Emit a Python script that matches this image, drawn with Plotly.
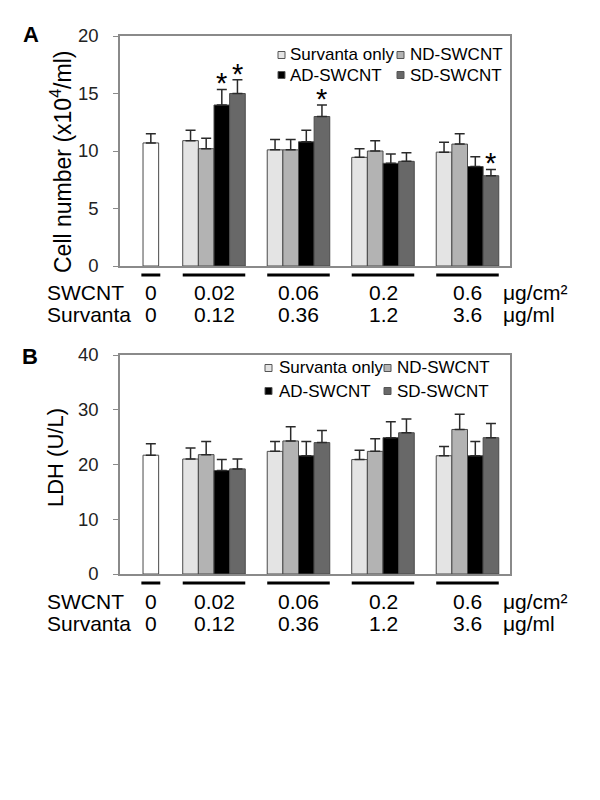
import plotly.graph_objects as go

# ---------------- data ----------------
swcnt_labels = ["0", "0.02", "0.06", "0.2", "0.6"]
survanta_labels = ["0", "0.12", "0.36", "1.2", "3.6"]
dose_groups = ["0.02", "0.06", "0.2", "0.6"]
series_names = ["Survanta only", "ND-SWCNT", "AD-SWCNT", "SD-SWCNT"]

# Panel A: cell number (x10^4/ml)
cell_control = 10.7
cell_control_err = 0.8
cell_surv = [10.9, 10.1, 9.45, 9.9]
cell_nd = [10.2, 10.1, 10.0, 10.6]
cell_ad = [14.0, 10.8, 8.93, 8.65]
cell_sd = [15.0, 13.0, 9.1, 7.85]
cell_surv_err = [0.9, 0.9, 0.75, 0.85]
cell_nd_err = [0.9, 0.9, 0.9, 0.9]
cell_ad_err = [1.35, 1.0, 0.8, 0.85]
cell_sd_err = [1.2, 1.0, 0.75, 0.55]
# significance marks: (series index, group index)
cell_stars = [(2, 0), (3, 0), (3, 1), (3, 3)]

# Panel B: LDH (U/L)
ldh_control = 21.7
ldh_control_err = 2.1
ldh_surv = [21.0, 22.4, 20.9, 21.6]
ldh_nd = [21.8, 24.3, 22.4, 26.4]
ldh_ad = [18.9, 21.6, 24.9, 21.6]
ldh_sd = [19.2, 24.0, 25.8, 24.9]
ldh_surv_err = [2.0, 1.8, 1.7, 1.7]
ldh_nd_err = [2.4, 2.6, 2.3, 2.8]
ldh_ad_err = [2.0, 2.6, 2.9, 2.6]
ldh_sd_err = [1.8, 2.2, 2.5, 2.6]

# ---------------- style ----------------
FONT = "Liberation Sans, Arial, sans-serif"
fills = ["#e4e4e4", "#b3b3b3", "#000000", "#686868"]
outline = "#4a4a4a"
axis_col = "#8a8a8a"
BW = 0.185
offsets = [-2 * BW, -BW, 0.0, BW]
ctrl_off = 0.16

W, H = 600, 800
PAGE_OFF = 8  # page body margin
def px(xp):
    return (xp - PAGE_OFF) / W
def py(yp):
    return 1 - (yp - PAGE_OFF) / H

fig = go.Figure()

panels = [
    dict(xa="x", ya="y", control=cell_control, control_err=cell_control_err,
         vals=[cell_surv, cell_nd, cell_ad, cell_sd],
         errs=[cell_surv_err, cell_nd_err, cell_ad_err, cell_sd_err]),
    dict(xa="x2", ya="y2", control=ldh_control, control_err=ldh_control_err,
         vals=[ldh_surv, ldh_nd, ldh_ad, ldh_sd],
         errs=[ldh_surv_err, ldh_nd_err, ldh_ad_err, ldh_sd_err]),
]

def err_style(arr):
    return dict(type="data", array=arr, arrayminus=[0] * len(arr), symmetric=False,
                color="#2a2a2a", thickness=1.5, width=5)

for p in panels:
    fig.add_trace(go.Bar(
        x=[swcnt_labels[0]], y=[p["control"]], width=BW, offset=ctrl_off,
        marker=dict(color="#ffffff", line=dict(color=outline, width=1)),
        error_y=err_style([p["control_err"]]),
        xaxis=p["xa"], yaxis=p["ya"], showlegend=False, name="Control"))
    for i, name in enumerate(series_names):
        fig.add_trace(go.Bar(
            x=dose_groups, y=p["vals"][i], width=BW, offset=offsets[i],
            marker=dict(color=fills[i], line=dict(color=outline, width=1)),
            error_y=err_style(p["errs"][i]),
            xaxis=p["xa"], yaxis=p["ya"], showlegend=False, name=name))

annotations = []
shapes = []

# stars
for (si, gi) in cell_stars:
    vals = panels[0]["vals"][si]
    errs = panels[0]["errs"][si]
    annotations.append(dict(
        x=gi + 1 + offsets[si] + BW / 2, y=vals[gi] + errs[gi], xref="x", yref="y",
        text="*", showarrow=False, xanchor="center", yanchor="bottom", yshift=-12,
        font=dict(family=FONT, size=29, color="#000000")))

x_dom = [px(120), px(510)]
x_range = [-0.1124, 4.503]
ax_common = dict(showline=True, linecolor=axis_col, linewidth=1.5, mirror=True,
                 showgrid=False, zeroline=False, automargin=False)
fig.update_layout(
    xaxis=dict(domain=x_dom, range=x_range, type="category",
               categoryorder="array", categoryarray=swcnt_labels,
               showticklabels=False, ticks="", anchor="y", **ax_common),
    yaxis=dict(domain=[py(266), py(36)], range=[0, 20], tickvals=[0, 5, 10, 15, 20],
               ticks="outside", ticklen=5, tickcolor=axis_col, tickwidth=1.2,
               ticklabelstandoff=11,
               tickfont=dict(family=FONT, size=18.5, color="#222222"), anchor="x", **ax_common),
    xaxis2=dict(domain=x_dom, range=x_range, type="category",
                categoryorder="array", categoryarray=swcnt_labels,
                showticklabels=False, ticks="", anchor="y2", **ax_common),
    yaxis2=dict(domain=[py(574), py(355)], range=[0, 40], tickvals=[0, 10, 20, 30, 40],
                ticks="outside", ticklen=5, tickcolor=axis_col, tickwidth=1.2,
                ticklabelstandoff=11,
                tickfont=dict(family=FONT, size=18.5, color="#222222"), anchor="x2", **ax_common),
)

# bottom labels, underlines
LBL = 21
panel_rows = [
    dict(xref="x", line_y=275, row1=292, row2=314),
    dict(xref="x2", line_y=583, row1=601, row2=623),
]
ctrl_center = ctrl_off + BW / 2
for pr in panel_rows:
    centers = [ctrl_center] + [i + 1 for i in range(len(dose_groups))]
    for k, c in enumerate(centers):
        half = 0.112 if k == 0 else 2 * BW
        shapes.append(dict(type="line", xref=pr["xref"], yref="paper",
                           x0=c - half, x1=c + half, y0=py(pr["line_y"]), y1=py(pr["line_y"]),
                           line=dict(color="#000000", width=3)))
        annotations.append(dict(x=c, y=py(pr["row1"]), xref=pr["xref"], yref="paper",
                                text=swcnt_labels[k], showarrow=False,
                                xanchor="center", yanchor="middle",
                                font=dict(family=FONT, size=LBL, color="#000000")))
        annotations.append(dict(x=c, y=py(pr["row2"]), xref=pr["xref"], yref="paper",
                                text=survanta_labels[k], showarrow=False,
                                xanchor="center", yanchor="middle",
                                font=dict(family=FONT, size=LBL, color="#000000")))
    annotations.append(dict(x=px(45), y=py(pr["row1"]), xref="paper", yref="paper",
                            text="SWCNT", showarrow=False, xanchor="left", yanchor="middle",
                            font=dict(family=FONT, size=LBL, color="#000000")))
    annotations.append(dict(x=px(45), y=py(pr["row2"]), xref="paper", yref="paper",
                            text="Survanta", showarrow=False, xanchor="left", yanchor="middle",
                            font=dict(family=FONT, size=LBL, color="#000000")))
    annotations.append(dict(x=px(501), y=py(pr["row1"]), xref="paper", yref="paper",
                            text="\u03bcg/cm\u00b2", showarrow=False, xanchor="left",
                            yanchor="middle", font=dict(family=FONT, size=LBL, color="#000000")))
    annotations.append(dict(x=px(501), y=py(pr["row2"]), xref="paper", yref="paper",
                            text="\u03bcg/ml", showarrow=False, xanchor="left",
                            yanchor="middle", font=dict(family=FONT, size=LBL, color="#000000")))

# axis titles
annotations.append(dict(x=px(61), y=py(162), xref="paper", yref="paper",
                        text="Cell number (x10<sup>4</sup>/ml)", textangle=-90, showarrow=False,
                        xanchor="center", yanchor="middle",
                        font=dict(family=FONT, size=23, color="#000000")))
annotations.append(dict(x=px(55), y=py(458), xref="paper", yref="paper",
                        text="LDH (U/L)", textangle=-90, showarrow=False,
                        xanchor="center", yanchor="middle",
                        font=dict(family=FONT, size=22, color="#000000")))

# panel letters
annotations.append(dict(x=px(31), y=py(35), xref="paper", yref="paper", text="<b>A</b>",
                        showarrow=False, xanchor="center", yanchor="middle",
                        font=dict(family=FONT, size=22, color="#000000")))
annotations.append(dict(x=px(30), y=py(356), xref="paper", yref="paper", text="<b>B</b>",
                        showarrow=False, xanchor="center", yanchor="middle",
                        font=dict(family=FONT, size=22, color="#000000")))

# legends (manual, inside each panel)
legend_specs = [
    dict(rows=[55, 75], sq_x=[278, 397], txt_x=[288, 408]),
    dict(rows=[368, 391], sq_x=[265, 384], txt_x=[277, 395]),
]
for ls in legend_specs:
    for i, name in enumerate(series_names):
        r = i // 2
        c = i % 2
        yc = ls["rows"][r]
        x0 = ls["sq_x"][c]
        shapes.append(dict(type="rect", xref="paper", yref="paper",
                           x0=px(x0), x1=px(x0 + 7), y0=py(yc + 3.5), y1=py(yc - 3.5),
                           fillcolor=fills[i], line=dict(color="#555555", width=1)))
        annotations.append(dict(x=px(ls["txt_x"][c]), y=py(yc), xref="paper", yref="paper",
                                text=name, showarrow=False, xanchor="left", yanchor="middle",
                                font=dict(family=FONT, size=17, color="#000000")))

fig.update_layout(
    template="none",
    width=W, height=H, margin=dict(l=0, r=0, t=0, b=0, pad=0, autoexpand=False),
    paper_bgcolor="#ffffff", plot_bgcolor="#ffffff",
    barmode="overlay", showlegend=False,
    annotations=annotations, shapes=shapes,
    font=dict(family=FONT),
)

fig.write_html("out.html")
